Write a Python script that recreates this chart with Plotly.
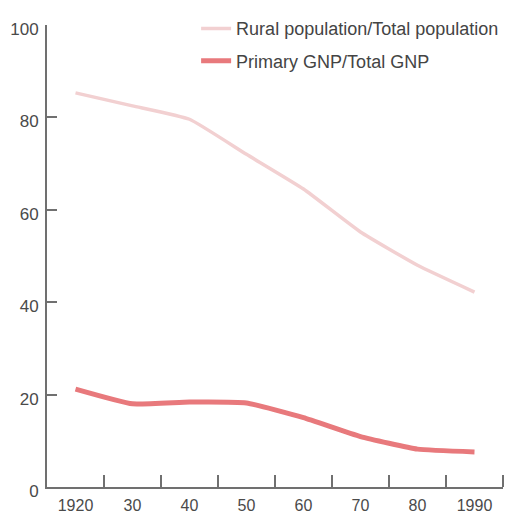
import plotly.graph_objects as go

years = [1920, 1930, 1940, 1950, 1960, 1970, 1980, 1990]
year_labels = ["1920", "30", "40", "50", "60", "70", "80", "1990"]
rural_share = [85.3, 82.5, 79.6, 72.0, 64.5, 55.2, 48.0, 42.2]
primary_gnp_share = [21.2, 18.0, 18.4, 18.2, 15.0, 10.9, 8.2, 7.6]
boundary_ticks = [1925, 1935, 1945, 1955, 1965, 1975, 1985, 1995]
y_ticks = [0, 20, 40, 60, 80, 100]

fig = go.Figure()
fig.add_trace(go.Scatter(
    x=years, y=rural_share, mode="lines",
    name="Rural population/Total population",
    line=dict(color="#f2d0d1", width=3.5, shape="spline", smoothing=0.4),
    legendgroup="a",
))
fig.add_trace(go.Scatter(
    x=years, y=primary_gnp_share, mode="lines",
    name="Primary GNP/Total GNP",
    line=dict(color="#e8797c", width=5, shape="spline", smoothing=0.4),
    legendgroup="b",
))

fig.update_layout(
    width=506, height=515,
    margin=dict(l=47, r=3, t=25, b=28, autoexpand=False),
    paper_bgcolor="white", plot_bgcolor="white",
    font=dict(family="Liberation Sans, Arial, sans-serif", color="#4a4a4a", size=16),
    showlegend=True,
    legend=dict(
        x=0.327, y=1.032, xanchor="left", yanchor="top",
        bgcolor="rgba(0,0,0,0)",
        font=dict(size=18, color="#444"),
        tracegroupgap=6, traceorder="grouped",
    ),
    xaxis=dict(
        range=[1915, 1995],
        tickmode="array", tickvals=years, ticktext=year_labels,
        ticks="", showgrid=False, zeroline=False,
        showline=True, linecolor="#707070", linewidth=2,
        tickfont=dict(size=16, color="#4a4a4a"),
        ticklabelstandoff=3,
        minor=dict(tickmode="array", tickvals=boundary_ticks, ticks="inside",
                   ticklen=12, tickwidth=2, tickcolor="#707070", showgrid=False),
    ),
    yaxis=dict(
        range=[0, 100],
        tickmode="array", tickvals=y_ticks,
        ticks="inside", ticklen=10, tickwidth=2, tickcolor="#707070",
        showgrid=False, zeroline=False,
        showline=True, linecolor="#707070", linewidth=2,
        tickfont=dict(size=17, color="#4a4a4a"),
        ticklabelstandoff=3,
        ticklabelshift=4,
    ),
)

fig.write_html("out.html", config={"displayModeBar": False},
               post_script="document.body.style.margin='0';")
